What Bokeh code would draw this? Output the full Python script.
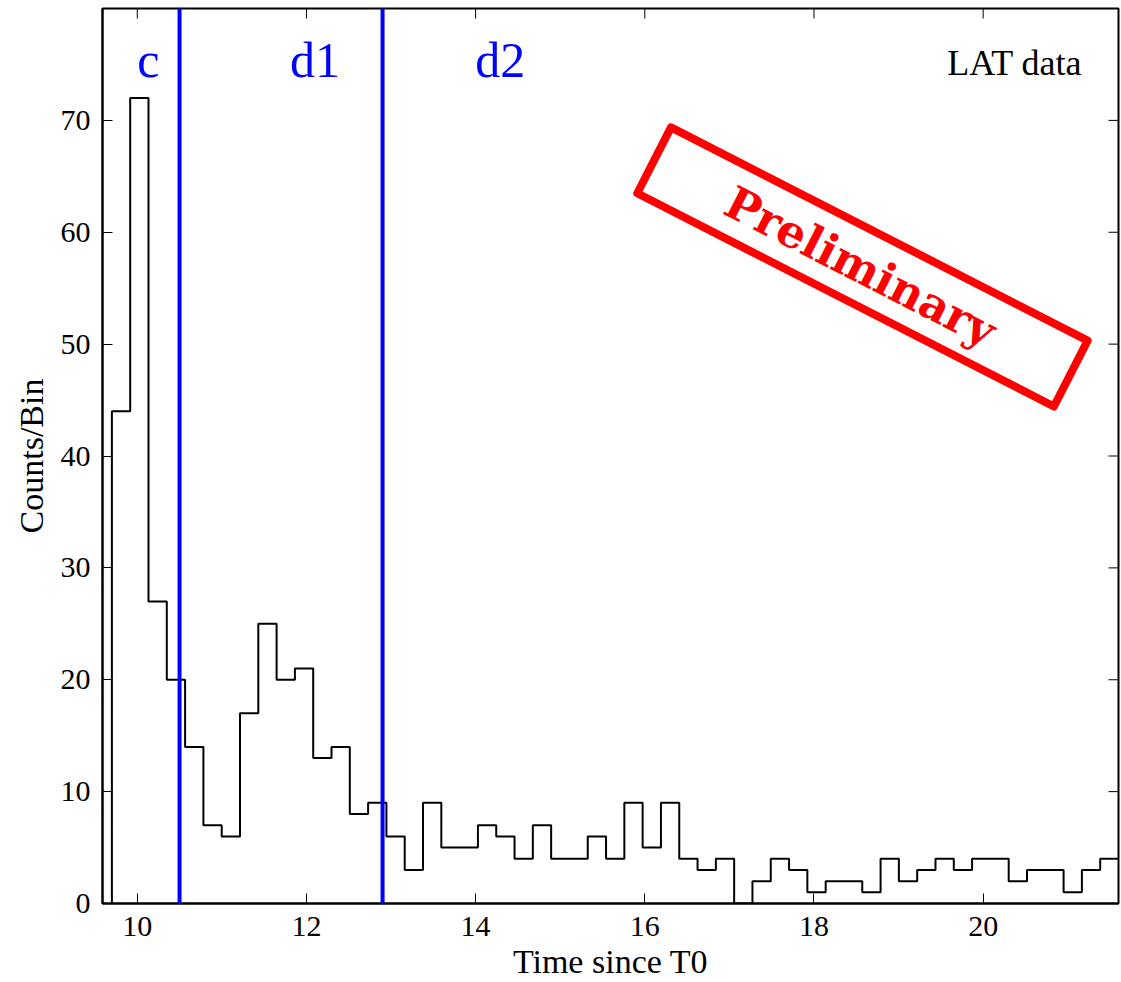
import numpy as np
from bokeh.plotting import figure
from bokeh.models import Span, Label, LinearAxis, FixedTicker, Range1d
from bokeh.embed import file_html
from bokeh.resources import INLINE

# ---- data ----
t_min, t_max = 9.7, 21.6
counts = [44, 72, 27, 20, 14, 7, 6, 17, 25, 20, 21, 13, 14, 8, 9, 6,
          3, 9, 5, 5, 7, 6, 4, 7, 4, 4, 6, 4, 9, 5, 9, 4, 3, 4, 0,
          2, 4, 3, 1, 2, 2, 1, 4, 2, 3, 4, 3, 4, 4, 2, 3, 3, 1, 3, 4]
edges = list(np.linspace(t_min, t_max, len(counts) + 1))
boundaries = [10.5, 12.9]
interval_names = ["c", "d1", "d2"]
interval_name_x = [10.13, 12.1, 14.29]
x_ticks = [10, 12, 14, 16, 18, 20]
y_ticks = [0, 10, 20, 30, 40, 50, 60, 70]
x_lo, x_hi = 9.589, 21.6
y_lo, y_hi = 0, 80

SERIF = "Liberation Serif"

p = figure(width=1121, height=982, output_backend="svg", toolbar_location=None,
           x_range=Range1d(x_lo, x_hi), y_range=Range1d(y_lo, y_hi),
           min_border_left=102, min_border_right=3, min_border_top=8,
           min_border_bottom=79, x_axis_location=None, y_axis_location=None)
p.grid.visible = False
p.outline_line_color = "black"
p.outline_line_width = 2
p.background_fill_color = "white"
p.border_fill_color = "white"

def style_axis(ax, ticks):
    ax.ticker = FixedTicker(ticks=ticks)
    ax.minor_tick_line_color = None
    ax.major_tick_in = 10
    ax.major_tick_out = 0
    ax.major_tick_line_color = "black"
    ax.major_tick_line_width = 1
    ax.axis_line_color = "black"
    ax.axis_line_width = 2
    ax.major_label_text_font = SERIF
    ax.major_label_text_font_size = "30px"
    ax.major_label_text_color = "black"
    ax.axis_label_text_font = SERIF
    ax.axis_label_text_font_size = "34px"
    ax.axis_label_text_font_style = "normal"
    ax.axis_label_text_color = "black"

xb = LinearAxis(axis_label="Time since T0")
style_axis(xb, x_ticks)
xb.major_label_standoff = 13
xb.axis_label_standoff = 4
p.add_layout(xb, "below")

yl = LinearAxis(axis_label="Counts/Bin")
style_axis(yl, y_ticks)
yl.major_label_standoff = 12
yl.axis_label_standoff = 8
p.add_layout(yl, "left")

# inward ticks on the top and right edges of the frame
tick_len_y = 10 * (y_hi - y_lo) / 895.0
tick_len_x = 10 * (x_hi - x_lo) / 1016.0
p.segment(x0=x_ticks, x1=x_ticks, y0=[y_hi] * len(x_ticks),
          y1=[y_hi - tick_len_y] * len(x_ticks), line_color="black", line_width=1)
p.segment(x0=[x_hi] * len(y_ticks), x1=[x_hi - tick_len_x] * len(y_ticks),
          y0=y_ticks, y1=y_ticks, line_color="black", line_width=1)

# histogram outline (step)
xs = [edges[0]] + edges
ys = [0] + counts + [counts[-1]]
p.step(xs, ys, mode="after", line_color="black", line_width=2)

# interval boundaries
for b in boundaries:
    p.add_layout(Span(location=b, dimension="height", line_color="#0000ff", line_width=4))

for name, xv in zip(interval_names, interval_name_x):
    p.add_layout(Label(x=xv, y=75.4, text=name, text_font=SERIF, text_font_size="50px",
                       text_color="#0000ff", text_align="center", text_baseline="middle"))

p.add_layout(Label(x=21.17, y=75.1, text="LAT data", text_font=SERIF,
                   text_font_size="36px", text_color="black", text_align="right",
                   text_baseline="alphabetic"))

# "Preliminary" stamp
ang = -0.473
p.rect(x=[18.573], y=[56.9], width=468, height=74, width_units="screen",
       height_units="screen", angle=ang, fill_color=None, line_color="#ff0000",
       line_width=8, line_join="round")
p.add_layout(Label(x=18.55, y=56.9, text="Preliminary", text_font="DejaVu Serif",
                   text_font_size="45px", text_font_style="bold", text_color="#ff0000",
                   text_align="center", text_baseline="middle", angle=ang))

open("out.html", "w").write(file_html(p, INLINE))
